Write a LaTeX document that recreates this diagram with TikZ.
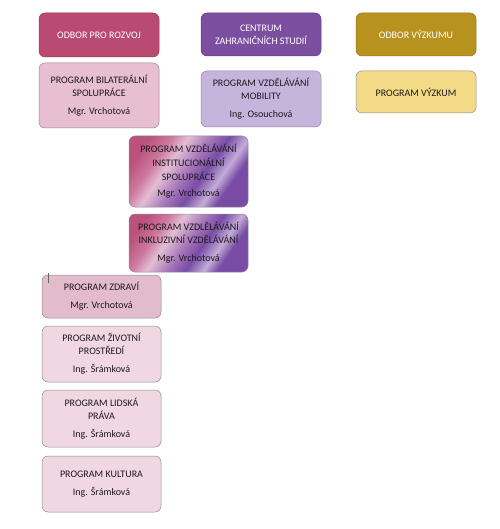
\documentclass[tikz,border=0pt]{standalone}
\usepackage{fontspec}
\setmainfont{Carlito}
\definecolor{rozvojC}{RGB}{185,74,114}
\definecolor{centrumC}{RGB}{124,78,160}
\definecolor{odborvC}{RGB}{184,146,30}
\definecolor{bilatC}{RGB}{231,191,208}
\definecolor{mobilC}{RGB}{197,181,221}
\definecolor{vyzkumC}{RGB}{243,218,134}
\definecolor{zdraviC}{RGB}{227,188,203}
\definecolor{lightC}{RGB}{240,215,225}
\definecolor{textC}{RGB}{30,25,30}
\definecolor{ppA}{RGB}{186,82,124}
\definecolor{ppA2}{RGB}{205,120,158}
\definecolor{ppB}{RGB}{226,190,212}
\definecolor{ppC}{RGB}{168,120,186}
\definecolor{ppD}{RGB}{120,76,165}
\definecolor{ppE}{RGB}{196,172,216}
\pgfdeclarehorizontalshading{pinkpurple}{100bp}{color(0bp)=(ppA); color(24bp)=(ppA); color(33bp)=(ppA2); color(40bp)=(ppB); color(49bp)=(ppC); color(57bp)=(ppD); color(65bp)=(ppE); color(71bp)=(ppD); color(100bp)=(ppD)}
\tikzset{
  box/.style={rounded corners=6pt, align=center, inner sep=0pt, text=textC,
    font=\fontsize{10}{13}\selectfont, line width=0.5pt},
  headbox/.style={box, text=white, draw=#1!80!black, fill=#1},
  lightbox/.style={box, draw=black!45, fill=#1},
  gradbox/.style={box, draw=black!45, shading=pinkpurple, shading angle=-35},
}
\begin{document}
\begin{tikzpicture}[x=1pt,y=-1pt]
\useasboundingbox[fill=white] (0,0) rectangle (499,529);
\node[headbox=rozvojC, minimum width=120pt, minimum height=44pt] (rozvoj) at (99,35) {ODBOR PRO ROZVOJ};
\node[headbox=centrumC, minimum width=120pt, minimum height=43pt] (centrum) at (261,34.5) {CENTRUM\\ZAHRANIČNÍCH STUDIÍ};
\node[headbox=odborvC, minimum width=120pt, minimum height=43pt] (odborv) at (416,34.5) {ODBOR VÝZKUMU};
\node[lightbox=bilatC, minimum width=120pt, minimum height=65pt] (bilat) at (99,95.5) {PROGRAM BILATERÁLNÍ\\SPOLUPRÁCE\\[5pt]Mgr. Vrchotová};
\node[lightbox=mobilC, minimum width=120pt, minimum height=56pt] (mobil) at (261,99) {PROGRAM VZDĚLÁVÁNÍ\\MOBILITY\\[5pt]Ing. Osouchová};
\node[lightbox=vyzkumC, minimum width=120pt, minimum height=42pt] (vyzkum) at (416,92) {PROGRAM VÝZKUM};
\node[gradbox, minimum width=119pt, minimum height=71pt] (instit) at (188.5,171.5) {PROGRAM VZDĚLÁVÁNÍ\\[1pt]INSTITUCIONÁLNÍ\\[1pt]SPOLUPRÁCE\\[3pt]Mgr. Vrchotová};
\node[gradbox, minimum width=119pt, minimum height=58pt] (inkl) at (188.5,243) {PROGRAM VZDLĚLÁVÁNÍ\\INKLUZIVNÍ VZDĚLÁVÁNÍ\\[5pt]Mgr. Vrchotová};
\node[lightbox=zdraviC, minimum width=119pt, minimum height=43pt] (zdravi) at (101.5,296.5) {PROGRAM ZDRAVÍ\\[5pt]Mgr. Vrchotová};
\node[lightbox=lightC, minimum width=119pt, minimum height=56pt] (zivot) at (101.5,354) {PROGRAM ŽIVOTNÍ\\PROSTŘEDÍ\\[5pt]Ing. Šrámková};
\node[lightbox=lightC, minimum width=119pt, minimum height=57pt] (lidska) at (101.5,418.5) {PROGRAM LIDSKÁ\\PRÁVA\\[5pt]Ing. Šrámková};
\node[lightbox=lightC, minimum width=119pt, minimum height=56pt] (kultura) at (101.5,484) {PROGRAM KULTURA\\[5pt]Ing. Šrámková};
\coordinate (curA) at (48,273);
\coordinate (curB) at (48,283);
\draw[black!60, line width=0.6pt] (curA) -- (curB);
\end{tikzpicture}
\end{document}
